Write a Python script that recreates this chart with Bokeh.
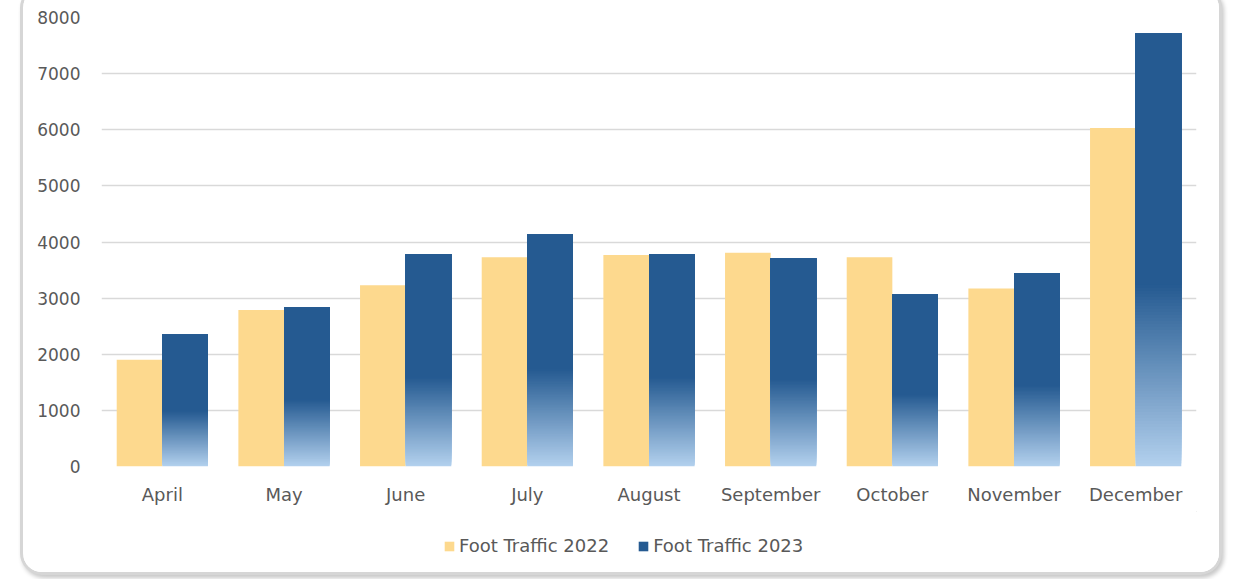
import numpy as np
from bokeh.plotting import figure
from bokeh.layouts import column
from bokeh.models import ColumnDataSource, FactorRange, Legend, LegendItem, FixedTicker
from bokeh.transform import dodge
from bokeh.embed import file_html
from bokeh.resources import INLINE

months = ["April", "May", "June", "July", "August", "September", "October", "November", "December"]
traffic_2022 = [1900, 2790, 3230, 3730, 3770, 3810, 3730, 3170, 6030]
traffic_2023 = [2350, 2840, 3780, 4135, 3780, 3705, 3065, 3445, 7715]
y_ticks = [0, 1000, 2000, 3000, 4000, 5000, 6000, 7000, 8000]
series_names = ["Foot Traffic 2022", "Foot Traffic 2023"]

YELLOW = "#fdd98e"
BLUE_DARK = "#255a91"
BLUE_LIGHT = "#b3d1ee"
TEXT = "#595959"
FONT = "DejaVu Sans"
W = 1196

p = figure(x_range=FactorRange(*months, range_padding=0), y_range=(0, 8000),
           width=W, height=522, output_backend="svg", toolbar_location=None,
           min_border_left=78, min_border_right=23, min_border_top=28, min_border_bottom=45)
p.outline_line_color = None
p.background_fill_color = "white"
p.border_fill_color = "white"

src = ColumnDataSource(dict(month=months, v22=traffic_2022, v23=traffic_2023,
                            split=[0.42 * v for v in traffic_2023]))

r22 = p.vbar(x=dodge("month", -0.1875, range=p.x_range), top="v22", width=0.375,
             source=src, fill_color=YELLOW, line_color=None)

# gradient on the lower part of the 2023 bars (drawn bottom-up, each slice overlapping the next)
n = 60
c0 = np.array([int(BLUE_LIGHT[i:i + 2], 16) for i in (1, 3, 5)], dtype=float)
c1 = np.array([int(BLUE_DARK[i:i + 2], 16) for i in (1, 3, 5)], dtype=float)
gx, gb, gt, gc = [], [], [], []
for k in range(n):
    f = (k + 0.5) / n
    c = c0 + (c1 - c0) * f
    col = "#%02x%02x%02x" % tuple(int(round(t)) for t in c)
    for m, v in zip(months, traffic_2023):
        s = 0.42 * v
        gx.append(m)
        gb.append(s * k / n)
        gt.append(v)
        gc.append(col)
gsrc = ColumnDataSource(dict(month=gx, b=gb, t=gt, c=gc))
p.vbar(x=dodge("month", 0.1875, range=p.x_range), bottom="b", top="t", width=0.375,
       source=gsrc, fill_color="c", line_color=None)
r23 = p.vbar(x=dodge("month", 0.1875, range=p.x_range), bottom="split", top="v23", width=0.375,
             source=src, fill_color=BLUE_DARK, line_color=None)

p.xgrid.grid_line_color = None
p.ygrid.grid_line_color = "#d9d9d9"
p.ygrid.grid_line_width = 1.3
p.yaxis.ticker = FixedTicker(ticks=y_ticks)

for ax in (p.xaxis[0], p.yaxis[0]):
    ax.axis_line_color = None
    ax.major_tick_line_color = None
    ax.minor_tick_line_color = None
    ax.major_label_text_color = TEXT
    ax.major_label_text_font = FONT
p.yaxis.major_label_text_font_size = "17px"
p.xaxis.major_label_text_font_size = "18px"
p.yaxis.major_label_standoff = 15
p.xaxis.major_label_standoff = 11

# legend in its own strip below the chart (swatch renderers sit outside the visible range)
lg = figure(width=W, height=61, output_backend="svg", toolbar_location=None,
            x_range=(0, 1), y_range=(0, 1), min_border=0,
            x_axis_location=None, y_axis_location=None)
lg.grid.visible = False
lg.outline_line_color = None
lg.border_fill_color = "white"
l22 = lg.vbar(x=[5], top=[5], bottom=[4], width=0.1, fill_color=YELLOW, line_color=None)
l23 = lg.vbar(x=[5], top=[5], bottom=[4], width=0.1, fill_color=BLUE_DARK, line_color=None)
legend = Legend(items=[LegendItem(label=series_names[0], renderers=[l22]),
                       LegendItem(label=series_names[1], renderers=[l23])],
                orientation="horizontal", location=(342, 16),
                label_text_font=FONT, label_text_font_size="18px", label_text_color=TEXT,
                glyph_width=12, glyph_height=12, spacing=28, label_standoff=4,
                border_line_color=None, background_fill_alpha=0, margin=0, padding=4)
lg.add_layout(legend, "center")

layout = column(p, lg, spacing=0,
                styles={"margin-left": "20px", "margin-top": "-14px",
                        "border": "3px solid #d6d6d6", "border-radius": "22px",
                        "overflow": "hidden", "background-color": "white",
                        "box-shadow": "2px 3px 4px rgba(0,0,0,0.22)"})

open("out.html", "w").write(file_html(layout, INLINE))
